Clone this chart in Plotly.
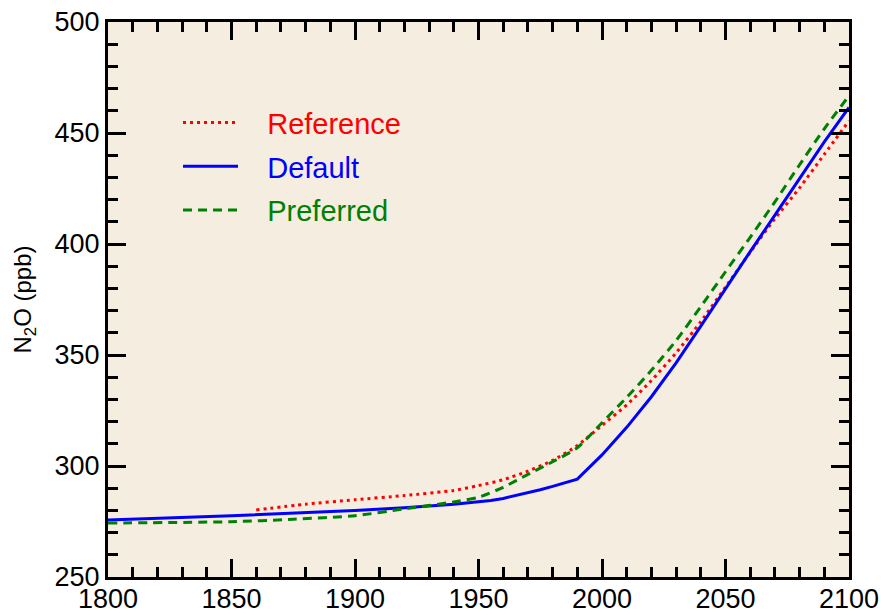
import plotly.graph_objects as go

# Default (blue, solid)
default_years = [1800, 1850, 1900, 1920, 1940, 1950, 1955, 1960, 1965, 1970, 1975, 1980, 1985, 1990,
                 2000, 2010, 2020, 2030, 2040, 2050, 2060, 2070, 2080, 2090, 2100]
default_vals = [275.7, 277.6, 280.0, 281.2, 282.8, 283.8, 284.5, 285.4, 286.6, 287.9, 289.3, 290.8, 292.4, 294.1,
                305.0, 317.4, 331.2, 346.5, 363.0, 380.0, 396.6, 413.0, 429.6, 446.0, 461.5]

# Reference (red, dotted)
reference_years = [1860, 1880, 1900, 1920, 1940, 1950, 1960, 1970, 1980, 1990,
                   2000, 2010, 2020, 2030, 2040, 2050, 2060, 2070, 2080, 2090, 2100]
reference_vals = [280.2, 282.8, 284.8, 286.7, 289.0, 291.2, 293.8, 297.7, 302.5, 309.2,
                  318.3, 327.5, 338.5, 351.0, 365.0, 380.6, 396.3, 411.4, 425.3, 440.4, 455.5]

# Preferred (green, dashed)
preferred_years = [1800, 1850, 1875, 1900, 1920, 1940, 1950, 1960, 1970, 1980, 1990,
                   2000, 2010, 2020, 2030, 2040, 2050, 2060, 2070, 2080, 2090, 2100]
preferred_vals = [274.3, 274.9, 276.0, 277.6, 280.7, 283.8, 285.9, 290.4, 296.2, 301.9, 308.2,
                  319.5, 330.9, 343.1, 356.5, 371.8, 387.5, 403.0, 419.0, 435.7, 451.9, 466.8]

x_ticks = [1800, 1850, 1900, 1950, 2000, 2050, 2100]
y_ticks = [250, 300, 350, 400, 450, 500]

FONT = "Liberation Sans, Arial, sans-serif"
GAP = "&nbsp;&nbsp;&nbsp;"

fig = go.Figure()
fig.add_trace(go.Scatter(
    x=reference_years, y=reference_vals, mode="lines",
    name=GAP + "<span style='color:#FF0000'>Reference</span>",
    line=dict(color="#FF0000", width=3, dash="3px,4px", shape="spline", smoothing=0.6),
    legendgroup="a"))
fig.add_trace(go.Scatter(
    x=default_years, y=default_vals, mode="lines",
    name=GAP + "<span style='color:#0000FF'>Default</span>",
    line=dict(color="#0000FF", width=3),
    legendgroup="b"))
fig.add_trace(go.Scatter(
    x=preferred_years, y=preferred_vals, mode="lines",
    name=GAP + "<span style='color:#008000'>Preferred</span>",
    line=dict(color="#008000", width=3, dash="9px,6px", shape="spline", smoothing=0.6),
    legendgroup="c"))

axis_common = dict(
    showgrid=False, zeroline=False, automargin=False,
    showline=True, linecolor="black", linewidth=3, mirror="ticks",
    ticks="inside", tickcolor="black", tickwidth=3,
    tickfont=dict(family=FONT, size=27, color="black"),
)

fig.update_xaxes(
    range=[1800, 2100], tickvals=x_ticks, ticklen=18, ticklabelstandoff=-4,
    minor=dict(dtick=10, tick0=1800, ticklen=10, ticks="inside", tickwidth=3, tickcolor="black"),
    **axis_common)
fig.update_yaxes(
    range=[250, 500], tickvals=y_ticks, ticklen=18,
    minor=dict(dtick=10, tick0=250, ticklen=10, ticks="inside", tickwidth=3, tickcolor="black"),
    title=dict(text="N<sub>2</sub>O (ppb)", font=dict(family=FONT, size=24, color="black"), standoff=17),
    **axis_common)

fig.update_layout(
    width=886, height=615,
    margin=dict(l=108, r=37, t=22, b=38),
    paper_bgcolor="white", plot_bgcolor="#F5EDE0",
    showlegend=True,
    legend=dict(x=0.0945, y=0.8646, xanchor="left", yanchor="top",
                bgcolor="rgba(0,0,0,0)", borderwidth=0,
                font=dict(family=FONT, size=29),
                itemwidth=55, tracegroupgap=3, traceorder="grouped"),
)

fig.write_html("out.html")
